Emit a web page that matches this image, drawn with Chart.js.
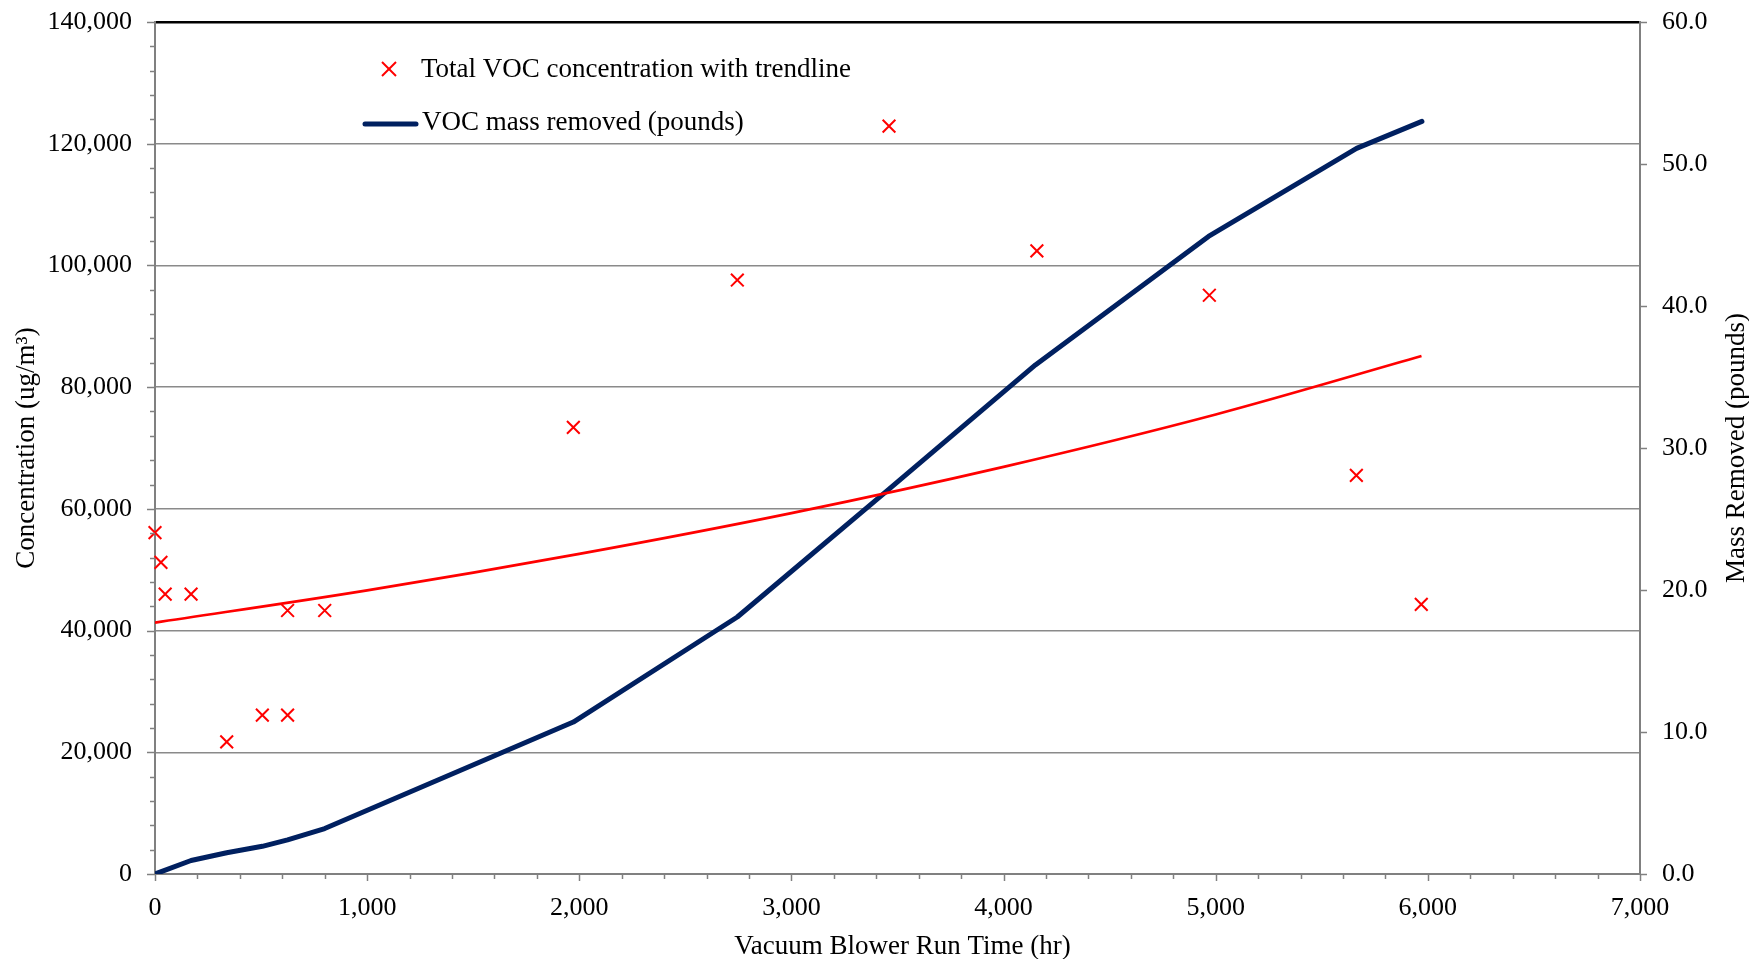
<!DOCTYPE html>
<html>
<head>
<meta charset="utf-8">
<title>VOC concentration and mass removed</title>
<script src="https://cdn.jsdelivr.net/npm/chart.js@4.4.1/dist/chart.umd.min.js"></script>
<style>
  html, body { margin: 0; padding: 0; background: #ffffff; }
  #wrap { width: 1749px; height: 959px; }
</style>
</head>
<body>
<div id="wrap"><canvas id="chart" width="1749" height="959"></canvas></div>
<script>
// Sample results: vacuum blower run time (hr) and total VOC concentration (ug/m3)
const runHours = [0, 28, 48, 170, 338, 506, 625, 625, 800, 1972, 2745, 3460, 4157, 4970, 5663, 5969];
const vocConcentration = [56100, 51200, 46000, 46000, 21700, 26100, 26100, 43300, 43300, 73400, 97600, 122900, 102400, 95100, 65500, 44300];

// Exponential trendline through the concentration samples
const trendHours = [0, 1000, 2000, 3000, 4000, 5000, 5970];
const trendConcentration = [41300, 46600, 52600, 59300, 66900, 75500, 85100];

// Cumulative VOC mass removed (pounds)
const massHours = [0, 170, 338, 506, 625, 800, 1972, 2745, 3460, 4150, 4966, 5664, 5972];
const massRemoved = [0, 0.95, 1.5, 1.95, 2.4, 3.2, 10.7, 18.1, 27.1, 35.85, 44.9, 51.1, 53.0];

// Axis ranges and tick spacing
const hoursAxis = { min: 0, max: 7000, major: 1000, minor: 200 };
const concAxis = { min: 0, max: 140000, major: 20000, minor: 4000 };
const massAxis = { min: 0, max: 60, major: 10 };

const SERIF = "'Liberation Serif', 'Times New Roman', Times, serif";
const AXIS_GREY = '#808080';
const GRID_GREY = '#8a8a8a';
const RED = '#ff0000';
const NAVY = '#002060';

const pairs = (xs, ys) => xs.map((x, i) => ({ x: x, y: ys[i] }));

// Tick marks (major + minor), the in-plot legend and the right-hand axis title
const axisDecor = {
  id: 'axisDecor',
  afterDraw(chart) {
    const { ctx, chartArea: a, scales } = chart;
    ctx.save();
    ctx.strokeStyle = AXIS_GREY;
    ctx.lineWidth = 1.5;
    const seg = (x1, y1, x2, y2) => {
      ctx.beginPath(); ctx.moveTo(x1, y1); ctx.lineTo(x2, y2); ctx.stroke();
    };
    const ys = scales.y;
    for (let v = concAxis.min; v <= concAxis.max; v += concAxis.minor) {
      const p = Math.round(ys.getPixelForValue(v)) + 0.5;
      seg(a.left, p, a.left - (v % concAxis.major === 0 ? 8 : 5), p);
    }
    const xs = scales.x;
    for (let v = hoursAxis.min; v <= hoursAxis.max; v += hoursAxis.minor) {
      const p = Math.round(xs.getPixelForValue(v)) + 0.5;
      seg(p, a.bottom, p, a.bottom + (v % hoursAxis.major === 0 ? 7 : 5));
    }
    const ms = scales.y2;
    for (let v = massAxis.min; v <= massAxis.max; v += massAxis.major) {
      const p = Math.round(ms.getPixelForValue(v)) + 0.5;
      seg(a.right, p, a.right + 7, p);
    }

    // legend
    ctx.fillStyle = '#000';
    ctx.font = '27px ' + SERIF;
    ctx.textAlign = 'left';
    ctx.textBaseline = 'alphabetic';
    const lx = a.left + 234, ly = a.top + 47;
    ctx.strokeStyle = RED;
    ctx.lineWidth = 2;
    const r = 7;
    seg(lx - r, ly - r, lx + r, ly + r);
    seg(lx - r, ly + r, lx + r, ly - r);
    ctx.fillText(chart.data.datasets[0].label, a.left + 266, a.top + 55);

    const ly2 = a.top + 102;
    ctx.strokeStyle = NAVY;
    ctx.lineWidth = 5;
    ctx.lineCap = 'round';
    seg(a.left + 210, ly2, a.left + 261, ly2);
    ctx.fillText(chart.data.datasets[2].label, a.left + 267, a.top + 108);

    // bottom axis title
    ctx.textAlign = 'center';
    ctx.textBaseline = 'middle';
    ctx.fillText('Vacuum Blower Run Time (hr)', (a.left + a.right) / 2 + 5, 947);

    // right axis title, reading bottom to top
    ctx.translate(1737, (a.top + a.bottom) / 2);
    ctx.rotate(-Math.PI / 2);
    ctx.fillText('Mass Removed (pounds)', 0, 0);
    ctx.restore();
  }
};

const tickFont = { family: SERIF, size: 26 };
const titleFont = { family: SERIF, size: 27, lineHeight: 1 };

// fixed axis band sizes so the plot area sits where the page layout wants it
const fixVertical = w => s => { s.width = w; s.paddingTop = 0; s.paddingBottom = 0; };

new Chart(document.getElementById('chart'), {
  type: 'scatter',
  data: {
    datasets: [
      {
        label: 'Total VOC concentration with trendline',
        data: pairs(runHours, vocConcentration),
        yAxisID: 'y',
        showLine: false,
        clip: false,
        pointStyle: 'crossRot',
        pointRadius: 9,
        pointHoverRadius: 9,
        pointBorderWidth: 2,
        pointBorderColor: RED,
        borderColor: RED,
        backgroundColor: RED
      },
      {
        label: 'Trendline',
        data: pairs(trendHours, trendConcentration),
        yAxisID: 'y',
        showLine: true,
        borderColor: RED,
        borderWidth: 2.6,
        pointRadius: 0,
        pointHoverRadius: 0,
        cubicInterpolationMode: 'monotone'
      },
      {
        label: 'VOC mass removed (pounds)',
        data: pairs(massHours, massRemoved),
        yAxisID: 'y2',
        showLine: true,
        borderColor: NAVY,
        backgroundColor: NAVY,
        borderWidth: 5,
        borderJoinStyle: 'round',
        borderCapStyle: 'round',
        tension: 0,
        pointRadius: 0,
        pointHoverRadius: 0
      }
    ]
  },
  options: {
    responsive: false,
    animation: false,
    devicePixelRatio: 1,
    layout: { padding: { top: 22, left: 0, right: 0, bottom: 0 } },
    plugins: { legend: { display: false }, tooltip: { enabled: false } },
    scales: {
      x: {
        type: 'linear',
        position: 'bottom',
        min: hoursAxis.min,
        max: hoursAxis.max,
        ticks: {
          stepSize: hoursAxis.major,
          color: '#000',
          font: tickFont,
          padding: 19,
          maxRotation: 0,
          autoSkip: false,
          callback: v => v.toLocaleString('en-US')
        },
        grid: { color: 'transparent', drawTicks: false },
        border: { color: AXIS_GREY, width: 2 },
        afterFit(s) { s.height = 85; }
      },
      y: {
        type: 'linear',
        position: 'left',
        min: concAxis.min,
        max: concAxis.max,
        ticks: {
          stepSize: concAxis.major,
          color: '#000',
          font: tickFont,
          padding: 23,
          callback: v => v.toLocaleString('en-US')
        },
        grid: {
          drawTicks: false,
          color: c => c.tick.value === concAxis.max ? '#000' : (c.tick.value === concAxis.min ? 'transparent' : GRID_GREY),
          lineWidth: c => c.tick.value === concAxis.max ? 2.5 : 1.5
        },
        border: { color: AXIS_GREY, width: 2 },
        title: {
          display: true,
          text: 'Concentration (ug/m³)',
          color: '#000',
          font: titleFont,
          padding: { top: 13, bottom: 0 }
        },
        afterFit: fixVertical(155)
      },
      y2: {
        type: 'linear',
        position: 'right',
        min: massAxis.min,
        max: massAxis.max,
        ticks: {
          stepSize: massAxis.major,
          color: '#000',
          font: tickFont,
          padding: 22,
          callback: v => v.toFixed(1)
        },
        grid: { drawOnChartArea: false, drawTicks: false },
        border: { color: AXIS_GREY, width: 2 },
        afterFit: fixVertical(109)
      }
    }
  },
  plugins: [axisDecor]
});
</script>
</body>
</html>
